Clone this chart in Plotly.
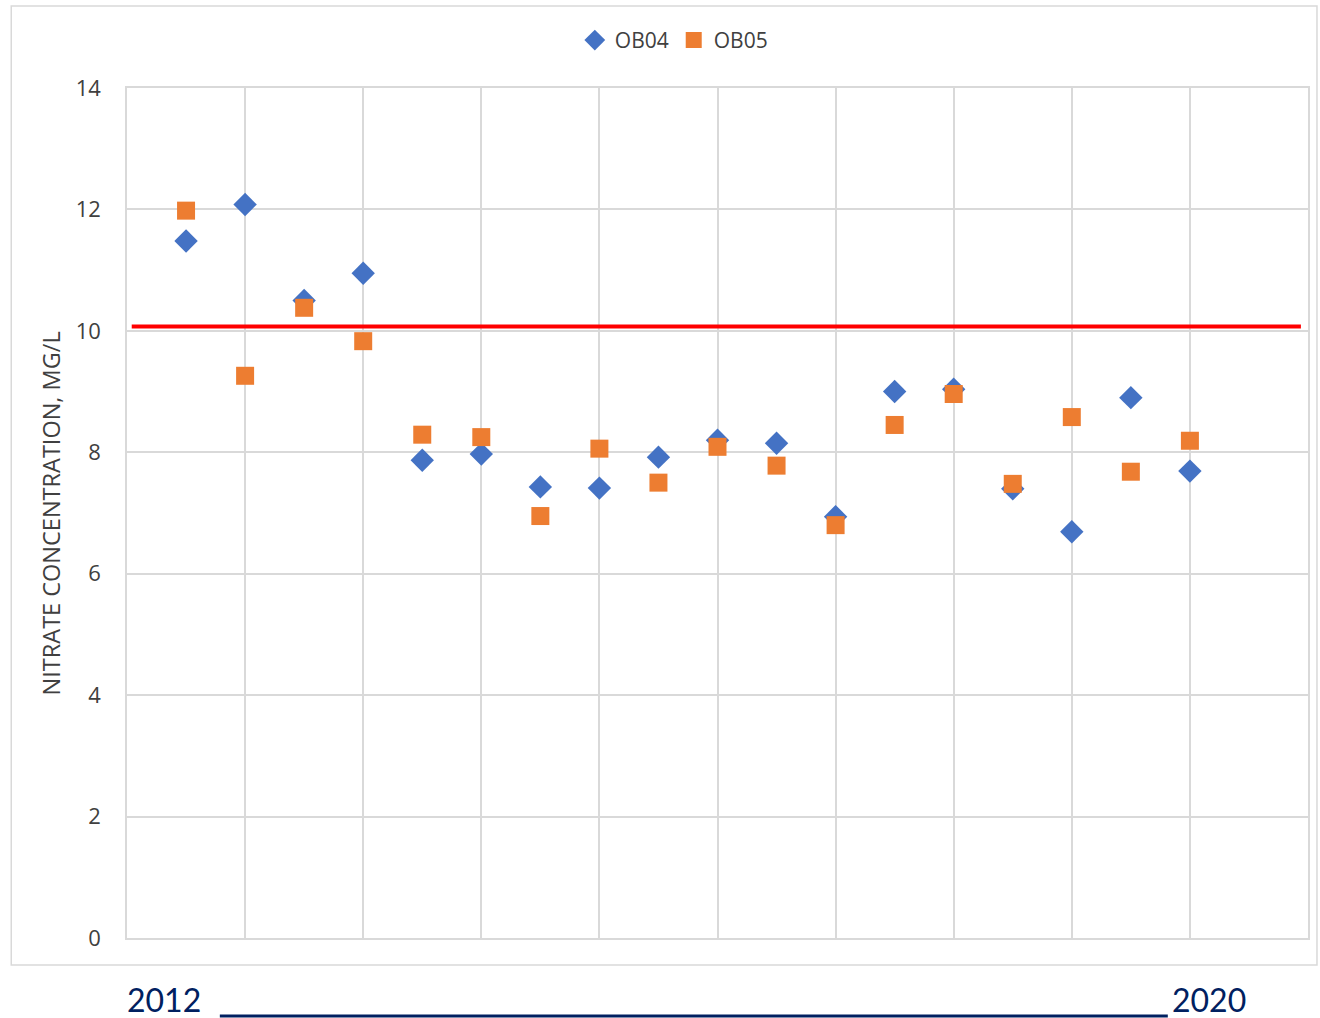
import plotly.graph_objects as go

# Sampling positions (arbitrary time index between 2012 and 2020)
x_pos = [0.5, 1, 1.5, 2, 2.5, 3, 3.5, 4, 4.5, 5, 5.5, 6, 6.5, 7, 7.5, 8, 8.5, 9]

ob04 = [11.48, 12.08, 10.5, 10.95, 7.87, 7.97, 7.43, 7.41, 7.92, 8.2, 8.15,
        6.94, 9.0, 9.04, 7.4, 6.69, 8.9, 7.69]
ob05 = [11.98, 9.26, 10.38, 9.83, 8.29, 8.25, 6.95, 8.06, 7.5, 8.09, 7.78,
        6.8, 8.45, 8.96, 7.48, 8.58, 7.68, 8.19]

limit_x = [0.04, 9.94]
limit_y = [10.07, 10.07]

y_ticks = [0, 2, 4, 6, 8, 10, 12, 14]
start_label = "2012"
end_label = "2020"
y_title = "NITRATE CONCENTRATION, MG/L"

fig = go.Figure()

fig.add_trace(go.Scatter(
    x=limit_x, y=limit_y, mode="lines",
    line=dict(color="#ff0000", width=4),
    showlegend=False, hoverinfo="skip"))

fig.add_trace(go.Scatter(
    x=x_pos, y=ob04, mode="markers", name="OB04",
    marker=dict(symbol="diamond", size=18, color="#4472c4",
                line=dict(width=0))))

fig.add_trace(go.Scatter(
    x=x_pos, y=ob05, mode="markers", name="OB05",
    marker=dict(symbol="square", size=18, color="#ed7d31",
                line=dict(width=0))))

grid = "#d9d9d9"
fig.update_layout(
    width=1320, height=1018,
    margin=dict(l=127, r=10, t=88, b=80),
    paper_bgcolor="white", plot_bgcolor="white",
    font=dict(family="Open Sans, Liberation Sans, sans-serif", color="#404040", size=20),
    legend=dict(orientation="h", x=0.463, xanchor="center", y=1.056, yanchor="middle",
                font=dict(size=21, color="#404040"), itemwidth=30,
                tracegroupgap=0, bgcolor="rgba(0,0,0,0)"),
    xaxis=dict(range=[0, 10], dtick=1, tick0=0, showticklabels=False,
               showgrid=True, gridcolor=grid, gridwidth=1.5,
               showline=True, linecolor=grid, linewidth=1.5, mirror=True,
               zeroline=False, ticks=""),
    yaxis=dict(range=[0, 14], tickvals=y_ticks, showgrid=True, gridcolor=grid,
               gridwidth=1.5, showline=True, linecolor=grid, linewidth=1.5,
               mirror=True, zeroline=False, ticks="", ticklabelstandoff=20,
               tickfont=dict(size=22, color="#404040")),
    showlegend=True,
)

# outer chart-area border
fig.add_shape(type="rect", xref="paper", yref="paper",
              x0=-0.098, x1=1.0076, y0=-0.0318, y1=1.0965,
              line=dict(color="#d9d9d9", width=1.5), fillcolor="rgba(0,0,0,0)",
              layer="below")

fig.add_annotation(text=y_title, xref="paper", yref="paper",
                   x=-0.064, xanchor="center", y=0.5, yanchor="middle",
                   textangle=-90, showarrow=False,
                   font=dict(size=23.5, color="#404040"))

navy = "#002060"
fig.add_annotation(text=start_label, xref="paper", yref="paper",
                   x=-0.002, xanchor="left", y=-0.072, yanchor="middle",
                   showarrow=False, font=dict(size=32, color=navy,
                   family="Lato, Open Sans, sans-serif"))
fig.add_annotation(text=end_label, xref="paper", yref="paper",
                   x=0.9495, xanchor="right", y=-0.072, yanchor="middle",
                   showarrow=False, font=dict(size=32, color=navy,
                   family="Lato, Open Sans, sans-serif"))
fig.add_shape(type="line", xref="paper", yref="paper",
              x0=0.0786, x1=0.8813, y0=-0.0918, y1=-0.0918,
              line=dict(color=navy, width=3))

fig.write_html("out.html", config={"displayModeBar": False},
               post_script="document.body.style.margin='0px';document.body.style.overflow='hidden';")
